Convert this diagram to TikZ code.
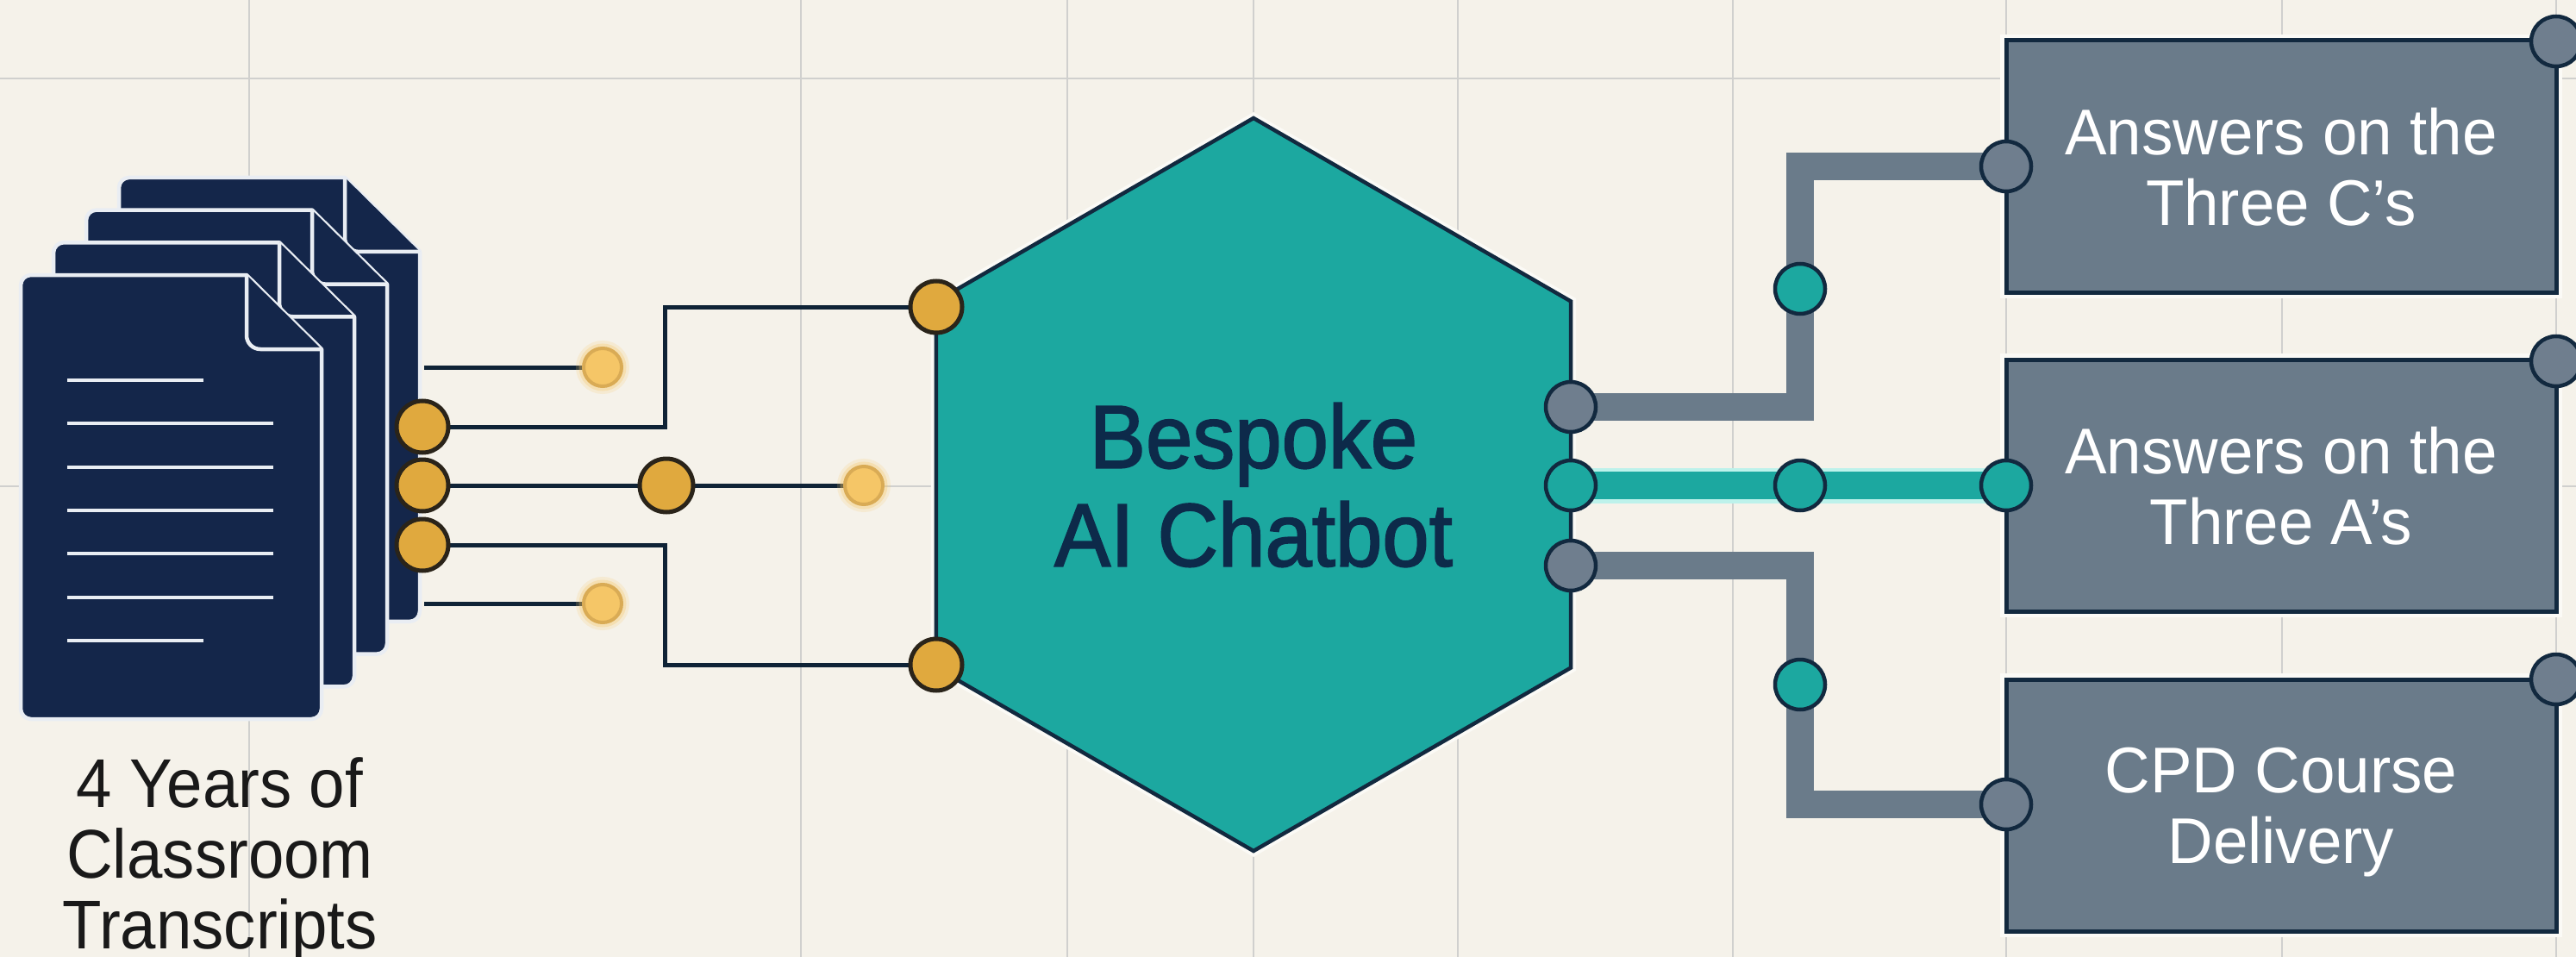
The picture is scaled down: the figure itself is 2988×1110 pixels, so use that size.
\documentclass[tikz,border=0pt]{standalone}
\usepackage{fontspec}
\usetikzlibrary{shapes.geometric}
\setmainfont{Liberation Sans}
\newfontfamily\labelfont{Liberation Sans}[FakeStretch=0.93]
\newfontfamily\boxfont{Liberation Sans}[FakeStretch=0.97]
\newfontfamily\hubfont{Liberation Sans}[FakeStretch=0.94,FakeBold=1.7]
\definecolor{paper}{HTML}{F5F2EA}
\definecolor{gridc}{HTML}{D0D0CE}
\definecolor{navy}{HTML}{14264A}
\definecolor{sheetline}{HTML}{E9EDF3}
\definecolor{ink}{HTML}{12293F}
\definecolor{hubink}{HTML}{0D2A4A}
\definecolor{teal}{HTML}{1CA8A0}
\definecolor{slate}{HTML}{6A7B8A}
\definecolor{slateport}{HTML}{6F7E8E}
\definecolor{gold}{HTML}{E0A93E}
\definecolor{goldline}{HTML}{2A241A}
\definecolor{palegold}{HTML}{F5C667}
\definecolor{palegoldline}{HTML}{D9AB55}
\definecolor{haloc}{HTML}{BDF2EB}
\definecolor{edgeglow}{HTML}{FBFAF6}
\pgfdeclarelayer{gridlayer}
\pgfdeclarelayer{wires}
\pgfsetlayers{gridlayer,wires,main}
\tikzset{
  gridline/.style={draw=gridc,line width=2.5pt},
  sheet/.style={fill=navy,draw=sheetline,line width=4.5pt,line join=round},
  textrule/.style={draw=sheetline,line width=4.5pt},
  thinwire/.style={draw=ink!85!black,line width=5pt},
  thickgray/.style={draw=slate,line width=32pt,line join=miter},
  thickteal/.style={draw=teal,line width=32pt},
  tealhalo/.style={draw=haloc,line width=41pt},
  goldport/.style={circle,inner sep=0pt,minimum size=60pt,fill=gold,draw=goldline,line width=5pt},
  glowport/.style={circle,inner sep=0pt,minimum size=44pt,fill=palegold,draw=palegoldline,line width=4pt,
    preaction={draw=palegold,line width=18pt,opacity=.18},
    preaction={draw=palegold,line width=11pt,opacity=.3}},
  grayport/.style={circle,inner sep=0pt,minimum size=58pt,fill=slateport,draw=ink,line width=4.5pt},
  tealport/.style={circle,inner sep=0pt,minimum size=58pt,fill=teal,draw=ink,line width=4.5pt},
  outbox/.style={rectangle,inner sep=0pt,minimum width=638pt,minimum height=292pt,fill=slate,draw=ink,line width=5pt,
    preaction={draw=edgeglow,line width=14pt},
    text=white,align=center,text depth=0pt,font=\boxfont\fontsize{75}{82}\selectfont},
  hub/.style={regular polygon,regular polygon sides=6,shape border rotate=30,inner sep=0pt,minimum size=850pt,
    fill=teal,draw=ink,line width=4.5pt,preaction={draw=edgeglow,line width=12pt},
    text=hubink,align=center,text depth=0pt,
    font=\hubfont\fontsize{104}{114}\selectfont},
  caption/.style={align=center,inner sep=0pt,text=black!90,font=\labelfont\fontsize{80}{82}\selectfont},
}
\begin{document}
\begin{tikzpicture}[x=1pt,y=-1pt]
\useasboundingbox (0,0) rectangle (2988,1110);
% paper and grid
\begin{pgfonlayer}{gridlayer}
\fill[paper] (0,0) rectangle (2988,1110);
\foreach \gx in {289,929,1238,1454,1691,2010,2327,2647,2965}
  \draw[gridline] (\gx,0) -- (\gx,1110);
\foreach \gy in {91,564}
  \draw[gridline] (0,\gy) -- (2988,\gy);
\end{pgfonlayer}
% stacked transcripts, back to front
\foreach \i in {3,2,1,0}{
  \begin{scope}[shift={(38*\i,-37.7*\i)}]
    \path[sheet] (286,319) -- (373,405) [rounded corners=12pt] -- (373,834) -- (24,834) -- (24,319) [sharp corners] -- cycle;
    \path[sheet] (286,319) [rounded corners=16pt] -- (286,405) [sharp corners] -- (373,405);
  \end{scope}
}
\foreach \ry/\rx in {441/236,491/317,542/317,592/317,642/317,693/317,743/236}
  \draw[textrule] (78,\ry) -- (\rx,\ry);
% hub
\node[hub] (hubnode) at (1454,562) {Bespoke\\AI Chatbot};
% output boxes
\node[outbox] (boxC) at (2646,193) {Answers on the\\Three C’s};
\node[outbox] (boxA) at (2646,563) {Answers on the\\Three A’s};
\node[outbox] (boxD) at (2646,934) {CPD Course\\Delivery};
% left ports
\node[goldport] (srcA) at (490,495) {};
\node[goldport] (srcB) at (490,563) {};
\node[goldport] (srcC) at (490,632) {};
\node[goldport,minimum size=62pt] (midB) at (773,563) {};
\node[goldport] (hubA) at (1086,356) {};
\node[goldport] (hubB) at (1086,771) {};
\node[glowport] (dotA) at (699,426) {};
\node[glowport] (dotB) at (1002,563) {};
\node[glowport] (dotC) at (699,700) {};
\coordinate (stubA) at (492,426);
\coordinate (stubC) at (492,700);
\coordinate (turnA) at (771,495);
\coordinate (turnC) at (771,632);
% right ports
\node[grayport] (outC) at (1822,472) {};
\node[tealport] (outA) at (1822,563) {};
\node[grayport] (outD) at (1822,656) {};
\node[tealport] (jctC) at (2088,335) {};
\node[tealport] (jctA) at (2088,563) {};
\node[tealport] (jctD) at (2088,794) {};
\node[grayport] (inC) at (2327,193) {};
\node[tealport] (inA) at (2327,563) {};
\node[grayport] (inD) at (2327,933) {};
\node[grayport] (cornerC) at (2965,48) {};
\node[grayport] (cornerA) at (2965,419) {};
\node[grayport] (cornerD) at (2965,788) {};
% connectors
\begin{pgfonlayer}{wires}
\draw[thinwire] (stubA) -- (dotA.center);
\draw[thinwire] (stubC) -- (dotC.center);
\draw[thinwire] (srcA.center) -- (turnA) |- (hubA.center);
\draw[thinwire] (srcC.center) -- (turnC) |- (hubB.center);
\draw[thinwire] (srcB.center) -- (midB.center);
\draw[thinwire] (midB.center) -- (dotB.center);
\draw[thickgray] (outC.center) -| (jctC.center);
\draw[thickgray] (jctC.center) |- (inC.center);
\draw[thickgray] (outD.center) -| (jctD.center);
\draw[thickgray] (jctD.center) |- (inD.center);
\draw[tealhalo] (outA.center) -- (inA.center);
\draw[thickteal] (outA.center) -- (jctA.center);
\draw[thickteal] (jctA.center) -- (inA.center);
\end{pgfonlayer}
% caption
\node[caption] (cap) at (255,998) {4 Years of\\Classroom\\Transcripts};
\end{tikzpicture}
\end{document}
